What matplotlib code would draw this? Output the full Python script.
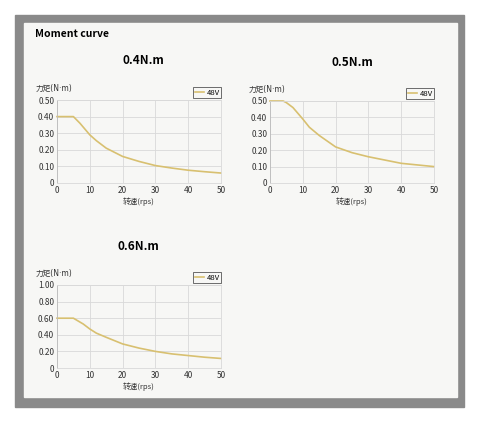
import matplotlib
matplotlib.use('Agg')
import matplotlib.pyplot as plt
from matplotlib.patches import Rectangle

plt.rcParams['font.family'] = ['Noto Sans CJK SC', 'DejaVu Sans']

# speed (rps) sample points and torque values (N.m)
speed_04 = [0, 5, 7, 10, 12, 15, 20, 25, 30, 35, 40, 45, 50]
torque_04 = [0.40, 0.40, 0.36, 0.29, 0.255, 0.21, 0.16, 0.13, 0.105, 0.09, 0.077, 0.068, 0.06]

speed_05 = [0, 4, 5, 7, 10, 12, 15, 20, 25, 30, 35, 40, 45, 50]
torque_05 = [0.50, 0.50, 0.49, 0.46, 0.39, 0.34, 0.29, 0.22, 0.185, 0.16, 0.14, 0.12, 0.11, 0.10]

speed_06 = [0, 5, 8, 10, 12, 15, 20, 25, 30, 35, 40, 45, 50]
torque_06 = [0.60, 0.60, 0.53, 0.47, 0.42, 0.37, 0.29, 0.24, 0.20, 0.17, 0.15, 0.13, 0.115]

titles = ['0.4N.m', '0.5N.m', '0.6N.m']
y_maxes = [0.5, 0.5, 1.0]
y_steps = [0.1, 0.1, 0.2]
x_ticks = [0, 10, 20, 30, 40, 50]
legend_label = '48V'
y_label = '力矩(N·m)'
x_label = '转速(rps)'

W, H = 480, 422
line_color = '#d8c070'
panel_bg = '#f7f7f5'

fig = plt.figure(figsize=(W / 100, H / 100), dpi=100)
fig.patch.set_facecolor('white')

# gray frame + light inner panel
fig.patches.append(Rectangle((15 / W, 1 - 407 / H), 449 / W, 392 / H,
                             transform=fig.transFigure, color='#8a8a8a', zorder=-2))
fig.patches.append(Rectangle((24 / W, 1 - 397 / H), 433 / W, 374 / H,
                             transform=fig.transFigure, color=panel_bg, zorder=-1))

fig.text(35 / W, 1 - 34 / H, 'Moment curve', fontsize=7.5, fontweight='bold',
         va='center', ha='left')


def add_panel(left, top, right, bottom, title, title_xy, xs, ys, ymax, ystep):
    ax = fig.add_axes([left / W, 1 - bottom / H, (right - left) / W, (bottom - top) / H])
    ax.set_zorder(2)
    ax.set_facecolor(panel_bg)
    ax.plot(xs, ys, color=line_color, lw=1.2, label=legend_label, clip_on=False)
    ax.set_xlim(0, 50)
    ax.set_ylim(0, ymax)
    ax.set_xticks(x_ticks)
    n = int(round(ymax / ystep))
    yt = [i * ystep for i in range(n + 1)]
    ax.set_yticks(yt)
    ax.set_yticklabels(['0'] + ['%.2f' % v for v in yt[1:]])
    ax.grid(True, color='#d9d9d9', lw=0.6)
    for s in ['top', 'right', 'bottom']:
        ax.spines[s].set_color('#d9d9d9')
        ax.spines[s].set_linewidth(0.6)
    ax.spines['left'].set_color('#bbbbbb')
    ax.spines['left'].set_linewidth(0.6)
    ax.tick_params(length=0, labelsize=6, pad=2, colors='#333333')
    for lbl in ax.get_xticklabels() + ax.get_yticklabels():
        lbl.set_fontweight('medium')
    ax.set_xlabel(x_label, fontsize=5.5, labelpad=2, color='#333333')
    ax.text(-0.13, 1.14, y_label, transform=ax.transAxes, fontsize=5.5,
            ha='left', va='center', color='#333333',
            family=['DejaVu Sans', 'Noto Sans CJK SC'])
    leg = ax.legend(loc='lower right', bbox_to_anchor=(1.0, 1.02), fontsize=5.5,
                    handlelength=1.2, handletextpad=0.3, borderpad=0.2,
                    fancybox=False, framealpha=1, edgecolor='#555555',
                    borderaxespad=0)
    leg.get_frame().set_linewidth(0.6)
    leg.get_frame().set_facecolor(panel_bg)
    fig.text(title_xy[0] / W, 1 - title_xy[1] / H, title, fontsize=8.5,
             fontweight='bold', ha='center', va='center')
    return ax


add_panel(57, 100, 221, 183, titles[0], (143, 61), speed_04, torque_04, y_maxes[0], y_steps[0])
add_panel(270, 101, 434, 183, titles[1], (352, 63), speed_05, torque_05, y_maxes[1], y_steps[1])
add_panel(57, 285, 221, 368, titles[2], (138, 247), speed_06, torque_06, y_maxes[2], y_steps[2])

fig.savefig('out.png', dpi=100, facecolor=fig.get_facecolor())
